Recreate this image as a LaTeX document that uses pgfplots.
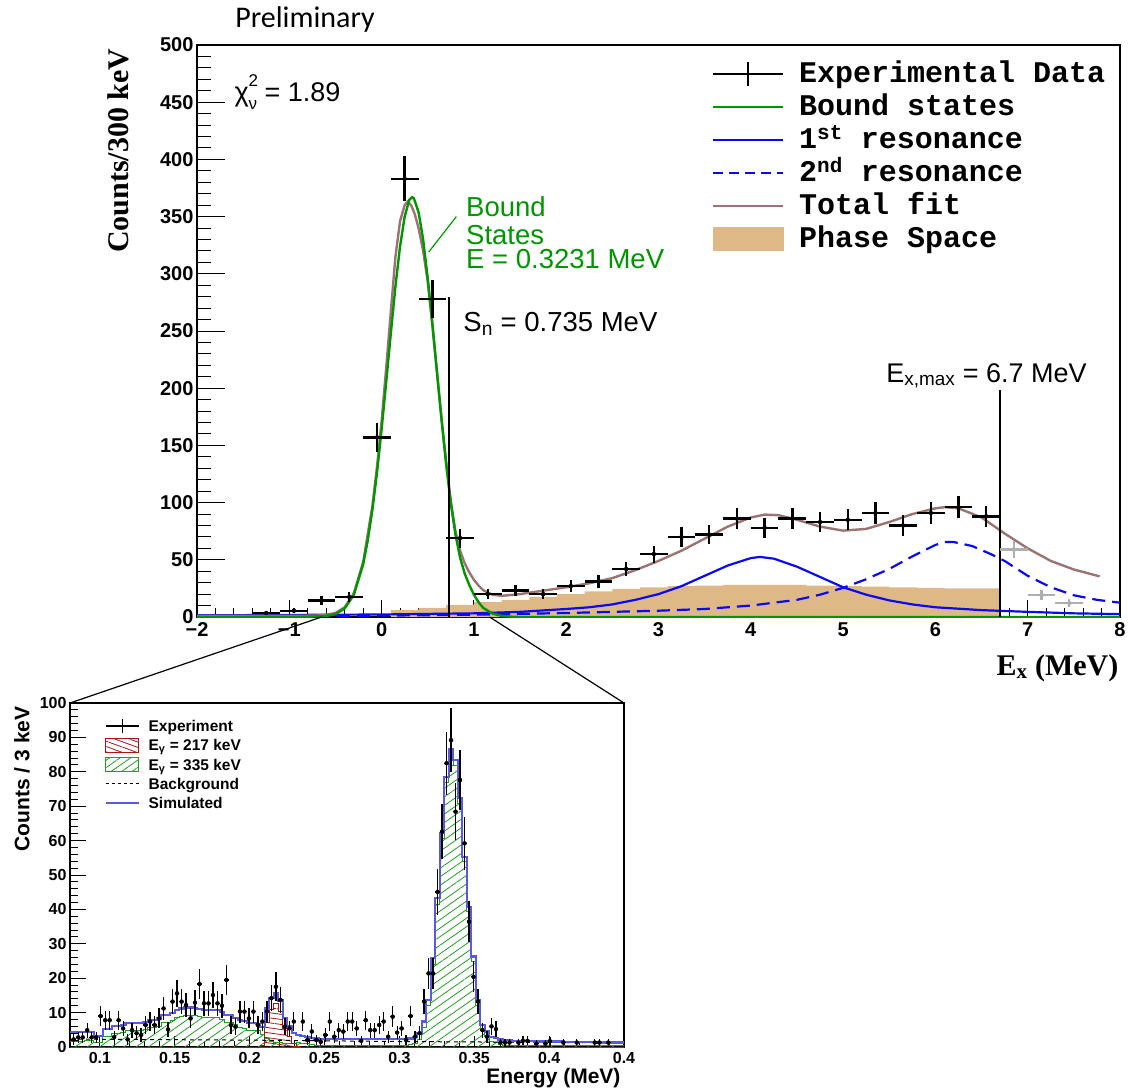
\documentclass[border=0pt]{standalone}
\usepackage{pgfplots}
\usepackage{pgfplotstable}
\pgfplotsset{compat=1.18}
\usepackage{fontspec}
\setmainfont{Liberation Sans}
\newfontfamily\lsans{Liberation Sans}
\newfontfamily\lserif{Liberation Serif}
\newfontfamily\lmono{Liberation Mono}
\newfontfamily\carl{Carlito}
\usetikzlibrary{patterns.meta}

\definecolor{bgreen}{RGB}{0,150,0}
\definecolor{rblue}{RGB}{10,10,240}
\definecolor{fitbrown}{RGB}{155,115,115}
\definecolor{pstan}{RGB}{222,184,135}
\definecolor{simblue}{RGB}{90,90,225}
\definecolor{hgreen}{RGB}{30,160,30}
\definecolor{hred}{RGB}{170,20,20}
\definecolor{lgray}{RGB}{175,175,175}

\pgfplotsset{
  mainline/.style={legend image code/.code={\draw[##1] (0pt,0pt) -- (70pt,0pt);}},
  maincross/.style={legend image code/.code={\draw[##1] (0pt,0pt) -- (70pt,0pt); \draw[##1] (35pt,-12pt) -- (35pt,12pt);}},
  mainbox/.style={legend image code/.code={\fill[##1] (0pt,-11.5pt) rectangle (70pt,11.5pt);}},
  insline/.style={legend image code/.code={\draw[##1] (0pt,0pt) -- (33pt,0pt);}},
  inscross/.style={legend image code/.code={\draw[##1] (0pt,0pt) -- (33pt,0pt); \draw[##1] (16.5pt,-7pt) -- (16.5pt,7pt);}},
  insbox/.style={legend image code/.code={\draw[##1] (0pt,-7pt) rectangle (33pt,7pt);}},
}

\pgfplotstableread{
x y e
-1.25 3.5 1.9
-0.95 5.5 2.3
-0.65 14.5 3.8
-0.35 17.5 4.2
-0.05 157 12.5
0.25 383 19.6
0.55 278 16.7
0.85 69 8.3
1.15 20 4.5
1.45 23 4.8
1.75 20 4.5
2.05 27 5.2
2.35 31 5.6
2.65 42 6.5
2.95 55 7.4
3.25 70 8.4
3.55 72 8.5
3.85 86 9.3
4.15 78 8.8
4.45 86 9.3
4.75 83 9.1
5.05 85 9.2
5.35 91 9.5
5.65 80 8.9
5.95 91 9.5
6.25 96 9.8
6.55 88 9.4
}\maindata

\pgfplotstableread{
x y e
6.85 59 7.7
7.15 19 4.4
7.45 12 3.5
}\graydata

\pgfplotstableread{
x y e
0.0825 2.2 1.5
0.0855 2.8 1.7
0.0885 2.8 1.7
0.0915 4.9 2.2
0.0945 2.8 1.7
0.0975 2.8 1.7
0.1005 9 3
0.1035 7.8 2.8
0.1065 7.8 2.8
0.1095 2.9 1.7
0.1125 7.8 2.8
0.1155 5.4 2.3
0.1185 2.2 1.5
0.1215 4.9 2.2
0.1245 4 2
0.1275 3.5 1.9
0.1305 6.4 2.5
0.1335 7.4 2.7
0.1365 6.4 2.5
0.1395 8.3 2.9
0.1425 11.2 3.3
0.1455 5.1 2.3
0.1485 13.2 3.6
0.1515 15.6 3.9
0.1545 13.2 3.6
0.1575 12.2 3.5
0.1605 8.3 2.9
0.1635 12.9 3.6
0.1665 18.3 4.3
0.1695 12.7 3.6
0.1725 12.7 3.6
0.1755 15.1 3.9
0.1785 12.7 3.6
0.1815 12 3.5
0.1845 19.5 4.4
0.1875 6.4 2.5
0.1905 5.9 2.4
0.1935 10.3 3.2
0.1965 10.3 3.2
0.1995 8.3 2.9
0.2025 10.3 3.2
0.2055 6.4 2.5
0.2085 7.4 2.7
0.2115 10.3 3.2
0.2145 14.2 3.8
0.2175 17.5 4.2
0.2205 13.7 3.7
0.2235 5.9 2.4
0.2265 5.4 2.3
0.2295 7.4 2.7
0.2355 7.4 2.7
0.2385 2 1.4
0.2415 4.5 2.1
0.2445 2 1.4
0.2475 1.5 1.2
0.2505 3.5 1.9
0.2535 7.4 2.7
0.2565 3 1.7
0.2595 4.9 2.2
0.2625 4.5 2.1
0.2655 7.4 2.7
0.2685 7.4 2.7
0.2715 5.4 2.3
0.2745 1.8 1.3
0.2775 7.8 2.8
0.2805 4.9 2.2
0.2835 4.9 2.2
0.2865 6.4 2.5
0.2895 7.4 2.7
0.2925 3 1.7
0.2955 8.8 3
0.2985 4.2 2
0.3015 5.4 2.3
0.3045 2 1.4
0.3075 9 3
0.3105 3 1.7
0.3135 4 2
0.3165 13.2 3.6
0.3195 21.4 4.6
0.3225 21.4 4.6
0.3255 45.1 6.7
0.3285 62.6 7.9
0.3315 82.5 9.1
0.3345 89.2 9.4
0.3375 68.4 8.3
0.3405 77.6 8.8
0.3435 59.2 7.7
0.3465 36.4 6
0.3495 20.4 4.5
0.3525 13.2 3.6
0.3555 4.9 2.2
0.3585 3 1.7
0.3615 6 2.4
0.3645 5.2 2.3
0.3675 1.3 1.1
0.3705 1.3 1.1
0.3735 1.3 1.1
0.3795 1.3 1.1
0.3825 1.8 1.3
0.3855 1.8 1.3
0.3915 1 1
0.3975 1 1
0.4005 1.7 1.3
0.4095 1.3 1.1
0.4185 1.3 1.1
0.4305 1.3 1.1
0.4335 1.3 1.1
0.4395 1.3 1.1
}\insetdata

\begin{document}
\begin{tikzpicture}
\useasboundingbox (0pt,0pt) rectangle (1128pt,-1091pt);

\node[font=\carl\fontsize{30}{30}\selectfont] at (305pt,-20pt) {Preliminary};

\begin{axis}[
  name=main, at={(197pt,-617pt)}, anchor=south west,
  scale only axis, width=923pt, height=572pt,
  xmin=-2, xmax=8, ymin=0, ymax=500,
  xtick={-2,-1,0,1,2,3,4,5,6,7,8},
  xticklabels={−2,−1,0,1,2,3,4,5,6,7,8},
  ytick={0,50,100,150,200,250,300,350,400,450,500},
  minor x tick num=4, minor y tick num=4,
  tick pos=left, tick align=inside,
  major tick length=28pt, minor tick length=14pt,
  axis line style={line width=1.2pt},
  xtick style={line width=1pt, black, /pgfplots/major tick length=17pt, /pgfplots/minor tick length=9pt},
  ytick style={line width=1pt, black, /pgfplots/major tick length=28pt, /pgfplots/minor tick length=14pt},
  /pgf/number format/assume math mode=true,
  ticklabel style={font=\lsans\bfseries\fontsize{20}{22}\selectfont},
  xticklabel style={yshift=-2pt},
  xlabel={\lserif\bfseries\fontsize{30}{30}\selectfont E\textsubscript{x} (MeV)},
  xlabel style={at={(axis description cs:1.002,-0.089)}, anchor=east},
  ylabel={\lserif\bfseries\fontsize{30}{30}\selectfont Counts/300 keV},
  ylabel style={at={(axis description cs:-0.0856,1.0)}, anchor=east},
  legend style={draw=none, fill=none, at={(axis description cs:0.558,0.978)}, anchor=north west,
    inner sep=0pt, outer sep=0pt, column sep=15pt, row sep=0pt,
    font=\lmono\bfseries\fontsize{30}{33}\selectfont,
    nodes={inner sep=0pt, text height=24.5pt, text depth=8.5pt}},
  legend cell align=left,
  clip=true,
]
% phase space
\addplot[const plot, fill=pstan, draw=none, forget plot] coordinates {
(0.1,6) (0.4,8) (0.7,10.5) (1.0,13) (1.3,15) (1.6,17.5) (1.9,20) (2.2,22.5) (2.5,24.5) (2.8,26) (3.1,27) (3.4,27.5) (3.7,28) (4.6,27.5) (4.9,27) (5.2,26.5) (5.5,26) (5.8,25.5) (6.1,25) (6.7,25)} \closedcycle;
% 2nd resonance
\addplot[rblue, line width=2.2pt, dash pattern=on 13pt off 7pt, forget plot] coordinates {
(-2,0.8) (0,1.2) (1,2) (2,3.5) (2.5,4.5) (3,5.5) (3.5,7) (4,10) (4.5,15) (4.75,19.5) (5.0,25.5) (5.25,33) (5.5,42) (5.75,53) (6.0,63) (6.1,65.5) (6.2,65.5) (6.4,62) (6.6,55) (6.75,49) (7.0,36) (7.25,26) (7.5,19) (7.75,15) (8.0,12.5)};
% 1st resonance
\addplot[rblue, line width=2.2pt, forget plot] coordinates {
(-2,1.5) (-1,1.8) (0,2.2) (1,3.2) (1.5,4.5) (2,7) (2.25,8.5) (2.5,11) (2.75,15) (3,20) (3.25,27) (3.5,36) (3.75,45) (4.0,51.5) (4.1,52.5) (4.25,51) (4.5,44) (4.75,35) (5.0,26) (5.25,19.5) (5.5,14.5) (5.75,11) (6.0,8.5) (6.5,6) (7,4.5) (7.5,3.2) (8,2.5)};
% total fit
\addplot[fitbrown, line width=2.4pt, forget plot] coordinates {
(-2,1) (-0.9,1) (-0.7,1.3) (-0.6,2) (-0.5,3.5) (-0.4,8.5) (-0.3,21) (-0.2,48) (-0.1,97) (-0.05,131) (0,171) (0.05,218) (0.1,267) (0.15,315) (0.2,346) (0.25,360) (0.28,363) (0.32,360) (0.36,352) (0.4,340) (0.45,320) (0.5,293) (0.55,255) (0.6,214) (0.65,173) (0.7,135) (0.75,101) (0.8,75) (0.85,58) (0.9,47) (0.95,39) (1.0,32.5) (1.05,27.5) (1.1,23.5) (1.2,19.5) (1.3,18.5) (1.5,20) (1.75,23) (2.0,26) (2.25,29.5) (2.5,34) (2.75,41) (3.0,49) (3.25,58) (3.5,68.5) (3.75,79) (4.0,87) (4.15,89.5) (4.3,89) (4.5,85) (4.75,79) (5.0,75.5) (5.25,77) (5.5,83) (5.75,90) (6.0,95) (6.1,96) (6.25,95) (6.5,87) (6.75,73) (7.0,60) (7.25,49) (7.5,41.5) (7.78,35.5)};
% bound states
\addplot[bgreen, line width=2.4pt, forget plot] coordinates {
(-2,0) (-0.9,0) (-0.7,0.5) (-0.6,1) (-0.5,2.5) (-0.4,7.5) (-0.3,19.5) (-0.2,46) (-0.15,67) (-0.1,93.5) (-0.05,126) (0,164) (0.05,205.5) (0.1,248) (0.15,289) (0.2,324) (0.25,350) (0.3,364.6) (0.33,367) (0.35,366) (0.4,354) (0.45,330) (0.5,296) (0.55,256.6) (0.6,214) (0.65,172) (0.7,133) (0.75,99.5) (0.8,72) (0.85,52) (0.9,38) (0.95,28) (1.0,19.5) (1.05,13) (1.1,8) (1.2,3) (1.3,1) (1.4,0.3) (1.5,0) (8,0)};
% vertical lines and annotation pointer
\addplot[black, line width=2pt, forget plot] coordinates {(0.735,0) (0.735,280)};
\addplot[black, line width=2pt, forget plot] coordinates {(6.7,0) (6.7,198)};
\addplot[bgreen, line width=1.2pt, forget plot] coordinates {(0.51,319) (0.81,350)};
% data
\addplot[only marks, mark=none, black, forget plot, error bars/.cd, x dir=both, x fixed=0.15, y dir=both, y explicit, error mark=none, error bar style={line width=2.4pt, black}] table[x=x, y=y, y error=e] {\maindata};
\addplot[only marks, mark=none, lgray, forget plot, error bars/.cd, x dir=both, x fixed=0.15, y dir=both, y explicit, error mark=none, error bar style={line width=2.4pt, lgray}] table[x=x, y=y, y error=e] {\graydata};

\addlegendimage{maincross, black, line width=2pt}
\addlegendentry{Experimental Data}
\addlegendimage{mainline, bgreen, line width=2.2pt}
\addlegendentry{Bound states}
\addlegendimage{mainline, rblue, line width=2.2pt}
\addlegendentry{1\textsuperscript{st} resonance}
\addlegendimage{mainline, rblue, line width=2.2pt, dash pattern=on 10pt off 6pt}
\addlegendentry{2\textsuperscript{nd} resonance}
\addlegendimage{mainline, fitbrown, line width=2.2pt}
\addlegendentry{Total fit}
\addlegendimage{mainbox, pstan}
\addlegendentry{Phase Space}

\node[anchor=base west, font=\lsans\fontsize{27}{27}\selectfont] at (axis cs:-1.632,450.4)
  {χ\rlap{\raisebox{0.55em}{\fontsize{17}{17}\selectfont 2}}\raisebox{-0.3em}{\fontsize{17}{17}\selectfont ν} = 1.89};
\node[anchor=base west, font=\lsans\fontsize{27.5}{27.5}\selectfont] at (axis cs:0.849,249.4)
  {S\textsubscript{n} = 0.735 MeV};
\node[anchor=base, font=\lsans\fontsize{27}{27}\selectfont] at (axis cs:6.554,205.4)
  {E\textsubscript{x,max} = 6.7 MeV};
\node[anchor=base west, text=bgreen, font=\lsans\fontsize{27.5}{27.5}\selectfont] at (axis cs:0.878,350) {Bound};
\node[anchor=base west, text=bgreen, font=\lsans\fontsize{27.5}{27.5}\selectfont] at (axis cs:0.878,325.2) {States};
\node[anchor=base west, text=bgreen, font=\lsans\fontsize{27.5}{27.5}\selectfont] at (axis cs:0.878,304.8) {E = 0.3231 MeV};
\coordinate (zl) at (axis cs:-0.65,0);
\coordinate (zr) at (axis cs:1.17,0);
\end{axis}

\begin{axis}[
  name=inset, at={(70pt,-1047pt)}, anchor=south west,
  scale only axis, width=554pt, height=344pt,
  xmin=0.08, xmax=0.45, ymin=0, ymax=100,
  xtick={0.1,0.15,0.2,0.25,0.3,0.35,0.4,0.45},
  xticklabels={0.1,0.15,0.2,0.25,0.3,0.35,0.4,0.4},
  ytick={0,10,20,30,40,50,60,70,80,90,100},
  minor x tick num=4, minor y tick num=4,
  tick pos=left, tick align=inside,
  major tick length=16pt, minor tick length=8pt,
  axis line style={line width=1.5pt},
  xtick style={line width=1pt, black, /pgfplots/major tick length=11pt, /pgfplots/minor tick length=6pt},
  ytick style={line width=1pt, black, /pgfplots/major tick length=16pt, /pgfplots/minor tick length=8pt},
  /pgf/number format/assume math mode=true,
  ticklabel style={font=\lsans\bfseries\fontsize{16}{18}\selectfont},
  xticklabel style={yshift=-2pt},
  xlabel={\lsans\bfseries\fontsize{21}{21}\selectfont Energy (MeV)},
  xlabel style={at={(axis description cs:1,-0.09)}, anchor=east},
  ylabel={\lsans\bfseries\fontsize{21}{21}\selectfont Counts / 3 keV},
  ylabel style={at={(axis description cs:-0.0866,1.0)}, anchor=east},
  legend style={draw=none, fill=none, at={(axis description cs:0.0632,0.9613)}, anchor=north west,
    inner sep=0pt, outer sep=0pt, column sep=9pt, row sep=0pt,
    font=\lsans\bfseries\fontsize{15.5}{19}\selectfont,
    nodes={inner sep=0pt, text height=15.15pt, text depth=4.15pt}},
  legend cell align=left,
]
% green 335 keV
\addplot[const plot, draw=hgreen, line width=1pt, pattern={Lines[angle=35,distance=7pt,line width=0.8pt]}, pattern color=hgreen, forget plot] coordinates {
(0.078,1.5) (0.084,1.6) (0.087,1.7) (0.090,1.8) (0.096,1.2) (0.102,3.0) (0.108,4.0) (0.114,4.3) (0.117,4.8) (0.129,5.1) (0.132,5.6) (0.138,6.1) (0.141,7.1) (0.147,7.8) (0.150,8.6) (0.153,9.0) (0.156,9.3) (0.162,9.1) (0.165,8.8) (0.168,8.6) (0.177,8.5) (0.180,8.0) (0.183,7.2) (0.189,6.4) (0.192,5.7) (0.195,5.5) (0.198,4.9) (0.204,4.7) (0.207,3.7) (0.210,2.5) (0.213,1.5) (0.216,1.3) (0.219,1.2) (0.222,1.1) (0.225,1.0) (0.231,1.2) (0.234,1.0) (0.237,0.9) (0.240,0.7) (0.243,0.5) (0.246,0.4) (0.306,0.6) (0.309,1.0) (0.312,2.2) (0.315,5.7) (0.318,12) (0.321,24.1) (0.324,41.5) (0.327,60.5) (0.330,77) (0.333,85) (0.336,81.9) (0.339,70.8) (0.342,53.8) (0.345,39.3) (0.348,24.8) (0.351,12.2) (0.354,4.9) (0.357,3) (0.360,1.5) (0.363,1.2) (0.366,0.7) (0.369,0.5) (0.372,0.3) (0.450,0.3)} \closedcycle;
% red 217 keV
\addplot[const plot, draw=hred, line width=1pt, pattern={Lines[angle=-8,distance=5pt,line width=0.8pt]}, pattern color=hred, forget plot] coordinates {
(0.078,0) (0.207,0.5) (0.210,7) (0.213,10.8) (0.216,12.7) (0.219,10.3) (0.222,5.4) (0.225,3) (0.228,1) (0.231,0.2) (0.234,0) (0.450,0)} \closedcycle;
% background
\addplot[black, line width=1pt, dash pattern=on 4pt off 4pt, forget plot] coordinates {(0.08,2.3) (0.2,2.0) (0.3,1.6) (0.45,1.2)};
% simulated
\addplot[const plot, simblue, line width=2.2pt, forget plot] coordinates {
(0.078,4.4) (0.096,3.2) (0.102,5.2) (0.108,6.2) (0.114,6.5) (0.117,7) (0.129,7.3) (0.132,7.8) (0.138,8.3) (0.141,9.3) (0.147,10) (0.150,10.8) (0.153,11.2) (0.156,11.5) (0.162,11.3) (0.165,11) (0.168,10.8) (0.177,10.7) (0.180,10.2) (0.183,9.3) (0.189,8.5) (0.192,7.8) (0.195,7.6) (0.198,7) (0.204,6.8) (0.207,5.8) (0.210,11.2) (0.213,14.2) (0.216,15.8) (0.219,13.5) (0.222,8.5) (0.225,6) (0.228,4) (0.231,3.4) (0.234,3.2) (0.237,3) (0.240,2.7) (0.243,2.5) (0.246,2.4) (0.249,2.3) (0.306,2.5) (0.309,3) (0.312,4) (0.315,7.4) (0.318,13.7) (0.321,25.8) (0.324,43.2) (0.327,62.1) (0.330,78.6) (0.333,86.5) (0.336,83.4) (0.339,72.3) (0.342,55.3) (0.345,40.8) (0.348,26.3) (0.351,13.7) (0.354,6.4) (0.357,4.5) (0.360,3) (0.363,2.7) (0.366,2.2) (0.369,2) (0.375,1.8) (0.390,1.6) (0.410,1.4) (0.430,1.3) (0.450,1.3)};
% experiment
\addplot[only marks, mark=none, black, forget plot, error bars/.cd, x dir=both, x fixed=0.0015, y dir=both, y explicit, error mark=none, error bar style={line width=1.3pt, black}] table[x=x, y=y, y error=e] {\insetdata};

\addlegendimage{inscross, black, line width=1.3pt}
\addlegendentry{Experiment}
\addlegendimage{insbox, draw=hred, line width=1pt, pattern={Lines[angle=-20,distance=5pt,line width=0.8pt]}, pattern color=hred}
\addlegendentry{E\textsubscript{γ} = 217 keV}
\addlegendimage{insbox, draw=hgreen, line width=1pt, pattern={Lines[angle=35,distance=6pt,line width=0.8pt]}, pattern color=hgreen}
\addlegendentry{E\textsubscript{γ} = 335 keV}
\addlegendimage{insline, black, line width=1pt, dash pattern=on 3pt off 3pt}
\addlegendentry{Background}
\addlegendimage{insline, simblue, line width=1.6pt}
\addlegendentry{Simulated}
\coordinate (il) at (rel axis cs:0,1);
\coordinate (ir) at (rel axis cs:1,1);
\end{axis}

\draw[black, line width=1.2pt] (zl) -- (il);
\draw[black, line width=1.2pt] (zr) -- (ir);
\end{tikzpicture}
\end{document}
